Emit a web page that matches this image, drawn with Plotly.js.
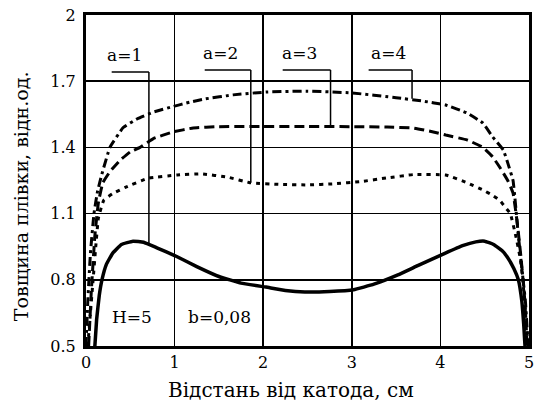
<!DOCTYPE html>
<html>
<head>
<meta charset="utf-8">
<script src="https://cdn.plot.ly/plotly-3.0.1.min.js"></script>
<style>html,body{margin:0;padding:0;background:#fff;}#chart{width:536px;height:401px;}</style>
</head>
<body>
<div id="chart"></div>
<script>
// Curve a=1 (solid)
const x_a1 = [0.10,0.12,0.15,0.18,0.23,0.30,0.40,0.53,0.65,0.80,1.00,1.25,1.50,1.75,2.03,2.25,2.47,2.75,3.02,3.25,3.52,3.75,4.05,4.25,4.40,4.50,4.60,4.70,4.76,4.83,4.88,4.92,4.94,4.955];
const y_a1 = [0.50,0.62,0.73,0.80,0.87,0.92,0.96,0.975,0.97,0.945,0.91,0.86,0.815,0.785,0.767,0.752,0.745,0.747,0.755,0.78,0.822,0.865,0.92,0.955,0.972,0.975,0.96,0.93,0.90,0.85,0.80,0.70,0.60,0.50];
// Curve a=2 (dotted)
const x_a2 = [0.02,0.05,0.08,0.11,0.14,0.20,0.30,0.45,0.70,1.03,1.30,1.60,1.85,2.20,2.50,2.80,3.10,3.40,3.70,4.06,4.30,4.48,4.60,4.67,4.75,4.79,4.85,4.90,4.93,4.96,4.99];
const y_a2 = [0.50,0.65,0.80,0.95,1.08,1.16,1.19,1.22,1.26,1.275,1.28,1.265,1.24,1.232,1.23,1.235,1.245,1.262,1.277,1.275,1.24,1.207,1.18,1.16,1.12,1.10,1.00,0.90,0.80,0.65,0.50];
// Curve a=3 (dashed)
const x_a3 = [0.03,0.06,0.10,0.14,0.19,0.27,0.38,0.50,0.61,0.76,0.98,1.21,1.50,2.00,2.50,3.00,3.40,3.69,3.92,4.06,4.30,4.48,4.59,4.67,4.76,4.82,4.87,4.91,4.95,4.98];
const y_a3 = [0.50,0.75,1.00,1.15,1.24,1.29,1.34,1.38,1.40,1.44,1.47,1.488,1.494,1.495,1.495,1.494,1.492,1.488,1.47,1.456,1.434,1.40,1.357,1.31,1.25,1.193,1.05,0.90,0.72,0.50];
// Curve a=4 (dash-dot)
const x_a4 = [0.00,0.02,0.05,0.09,0.13,0.18,0.27,0.42,0.58,0.76,0.98,1.17,1.35,1.66,2.04,2.50,3.00,3.50,3.80,4.06,4.30,4.48,4.59,4.71,4.76,4.82,4.84,4.88,4.92,4.96,4.99];
const y_a4 = [0.50,0.70,0.92,1.10,1.20,1.28,1.40,1.49,1.53,1.56,1.585,1.605,1.62,1.638,1.651,1.655,1.647,1.625,1.61,1.592,1.556,1.51,1.447,1.388,1.33,1.25,1.175,1.00,0.85,0.70,0.50];

const yTickVals = [0.5,0.8,1.1,1.4,1.7,2.0];
const yTickText = ["0.5","0.8","1.1","1.4","1.7","2"];
const xTickVals = [0,1,2,3,4,5];
const xTickText = ["0","1","2","3","4","5"];

// Curve labels and leader lines (data coordinates)
const labelText = ["a=1","a=2","a=3","a=4"];
const labelX = [0.43,1.52,2.41,3.41];
const labelY = [1.82,1.83,1.83,1.83];
const leaderX0 = [0.29,1.34,2.22,3.19];
const leaderX1 = [0.71,1.86,2.76,3.68];
const leaderY = [1.742,1.751,1.751,1.751];
const leaderEnd = [0.965,1.24,1.492,1.62];
const noteText = ["H=5","b=0,08"];
const noteX = [0.52,1.51];
const noteY = [0.63,0.63];

const xTitle = 'Відстань від катода, см';
const yTitle = 'Товщина плівки, відн.од.';

const FONT = "DejaVu Serif";
const line = (w, d) => ({color:'#000', width:w, dash:d, shape:'spline', smoothing:0.3});
const traces = [
  {x:x_a1, y:y_a1, mode:'lines', line:line(3.5,'solid'), name:'a=1'},
  {x:x_a2, y:y_a2, mode:'lines', line:line(3,'4px,5px'), name:'a=2'},
  {x:x_a3, y:y_a3, mode:'lines', line:line(3,'10px,5px'), name:'a=3'},
  {x:x_a4, y:y_a4, mode:'lines', line:line(3,'9px,4px,3px,4px'), name:'a=4'}
];

const shapes = [];
const annotations = [];
for (let i = 0; i < labelText.length; i++) {
  shapes.push({type:'line', xref:'x', yref:'y', x0:leaderX0[i], x1:leaderX1[i], y0:leaderY[i], y1:leaderY[i], line:{color:'#000', width:1.5}});
  shapes.push({type:'line', xref:'x', yref:'y', x0:leaderX1[i], x1:leaderX1[i], y0:leaderY[i], y1:leaderEnd[i], line:{color:'#000', width:1.5}});
  annotations.push({x:labelX[i], y:labelY[i], xref:'x', yref:'y', text:labelText[i], showarrow:false, font:{family:FONT, size:17, color:'#000'}});
}
for (let i = 0; i < noteText.length; i++) {
  annotations.push({x:noteX[i], y:noteY[i], xref:'x', yref:'y', text:noteText[i], showarrow:false, font:{family:FONT, size:17, color:'#000'}});
}
// axis titles placed as annotations
annotations.push({x:-0.145, y:0.452, xref:'paper', yref:'paper', text:yTitle, textangle:-90, showarrow:false, xanchor:'center', yanchor:'middle', font:{family:FONT, size:19, color:'#000'}});
annotations.push({x:0.463, y:-0.133, xref:'paper', yref:'paper', text:xTitle, showarrow:false, xanchor:'center', yanchor:'middle', font:{family:FONT, size:20, color:'#000'}});

const layout = {
  width:536, height:401,
  margin:{l:86, r:7, t:15, b:55},
  paper_bgcolor:'#fff', plot_bgcolor:'#fff',
  showlegend:false,
  font:{family:FONT, size:16, color:'#000'},
  xaxis:{
    range:[0,5], tickvals:xTickVals, ticktext:xTickText, ticks:'',
    showgrid:true, gridcolor:'#000', gridwidth:1.5, zeroline:false,
    showline:true, linecolor:'#000', linewidth:3, mirror:true,
    tickfont:{family:FONT, size:16, color:'#000'}
  },
  yaxis:{
    range:[0.5,2], tickvals:yTickVals, ticktext:yTickText, ticks:'',
    showgrid:true, gridcolor:'#000', gridwidth:1.5, zeroline:false,
    showline:true, linecolor:'#000', linewidth:3, mirror:true,
    ticklabelstandoff:4,
    tickfont:{family:FONT, size:16, color:'#000'}
  },
  shapes:shapes,
  annotations:annotations
};

Plotly.newPlot('chart', traces, layout, {displayModeBar:false, staticPlot:true});
</script>
</body>
</html>
